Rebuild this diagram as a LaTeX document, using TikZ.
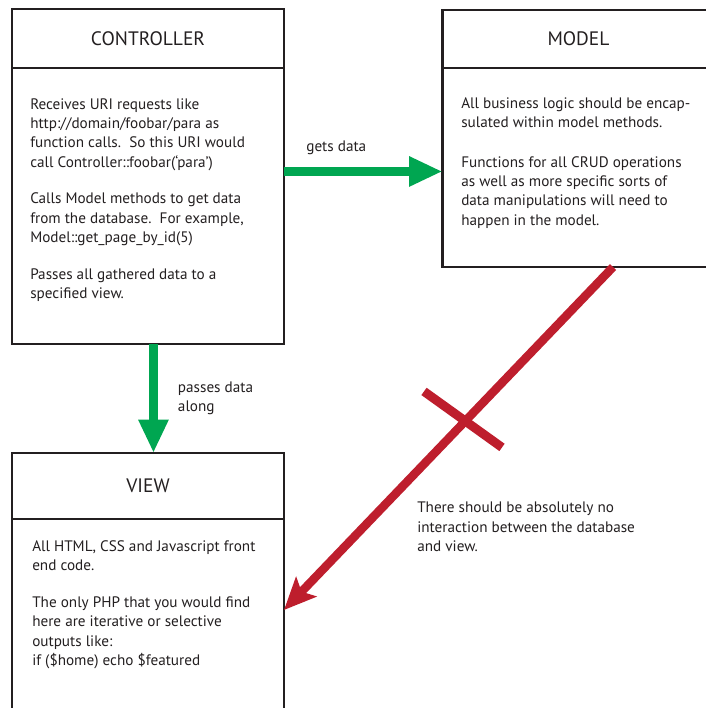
\documentclass[tikz,border=0pt]{standalone}
\usepackage{fontspec}
\setmainfont{PT Sans}
\usetikzlibrary{arrows.meta, positioning, calc}
\definecolor{ink}{HTML}{231F20}
\definecolor{mvcgreen}{HTML}{00A651}
\definecolor{mvcred}{HTML}{BE1E2D}

\begin{document}
\begin{tikzpicture}[x=0.75pt, y=-0.75pt,
        head/.style={draw=ink, line width=2pt, outer sep=0pt, inner sep=0pt, minimum width=204pt, text=ink, font=\fontsize{14.6}{17}\selectfont},
        body/.style={draw=ink, line width=2pt, outer sep=0pt, inner sep=0pt, minimum width=204pt},
        txt/.style={anchor=north west, align=left, inner sep=0pt, text=ink, font=\fontsize{11.4}{14.5}\selectfont},
        flow/.style={-{Triangle[length=25pt, width=21pt]}, mvcgreen, line width=6.75pt},
        nogo/.style={-{Stealth[length=24pt, width=21pt, inset=5pt]}, mvcred, line width=6.4pt}
    ]
        \path[use as bounding box, clip] (0,0) rectangle (706,708);

        % Boxes
        \node[head, minimum height=44.25pt] (ctrlhead) at (148, 38.5) {CONTROLLER};
        \node[body, minimum height=207pt, below=0pt of ctrlhead] (ctrl) {};
        \node[head, minimum height=43.5pt] (modelhead) at (578.5, 39) {MODEL};
        \node[body, minimum height=149.25pt, below=0pt of modelhead] (model) {};
        \node[head, minimum height=49.5pt] (viewhead) at (148, 486) {VIEW};
        \node[body, minimum height=142.5pt, below=0pt of viewhead] (view) {};

        % Texts
        \node[txt] (ctrltext) at (30, 98) {Receives URI requests like\\ http://domain/foobar/para as\\ function calls.\ \ So this URI would\\ call Controller::foobar(‘para’)\\[13pt]
            Calls Model methods to get data\\ from the database.\ \ For example,\\ Model::get\_page\_by\_id(5)\\[13pt]
            Passes all gathered data to a\\ specified view.};
        \node[txt] (modeltext) at (461, 97.5) {All business logic should be encap-\\ sulated within model methods.\\[15pt]
            Functions for all CRUD operations\\ as well as more specific sorts of\\ data manipulations will need to\\ happen in the model.};
        \node[txt] (viewtext) at (32, 540.5) {All HTML, CSS and Javascript front\\ end code.\\[13pt]
            The only PHP that you would find\\ here are iterative or selective\\ outputs like:\\ if (\$home) echo \$featured};

        % Edges
        \coordinate (getsfrom) at ([yshift=25.9pt]ctrl.east);
        \draw[flow] (getsfrom) -- (getsfrom -| model.west)
            node[pos=0.33, above=9pt, inner sep=0pt, text=ink, font=\fontsize{11.4}{14.5}\selectfont] (gets) {gets data};
        \coordinate (passfrom) at ([xshift=4.1pt]ctrl.south);
        \draw[flow] (passfrom) -- (passfrom |- viewhead.north)
            node[midway, right=15pt, align=left, inner sep=0pt, text=ink, font=\fontsize{11.4}{14.5}\selectfont] (passes) {passes data\\ along};

        % No database access from the view
        \coordinate (dbfrom) at ([xshift=25.9pt]model.south);
        \draw[nogo] (dbfrom) -- ([yshift=3pt]view.east) coordinate[pos=0.456] (block);
        \draw[mvcred, line width=6.75pt] ($(block)+(-39,-32)$) -- ($(block)+(39,24)$);
        \node[txt] (nointeraction) at (417, 502) {There should be absolutely no\\ interaction between the database\\ and view.};

    \end{tikzpicture}
\end{document}
